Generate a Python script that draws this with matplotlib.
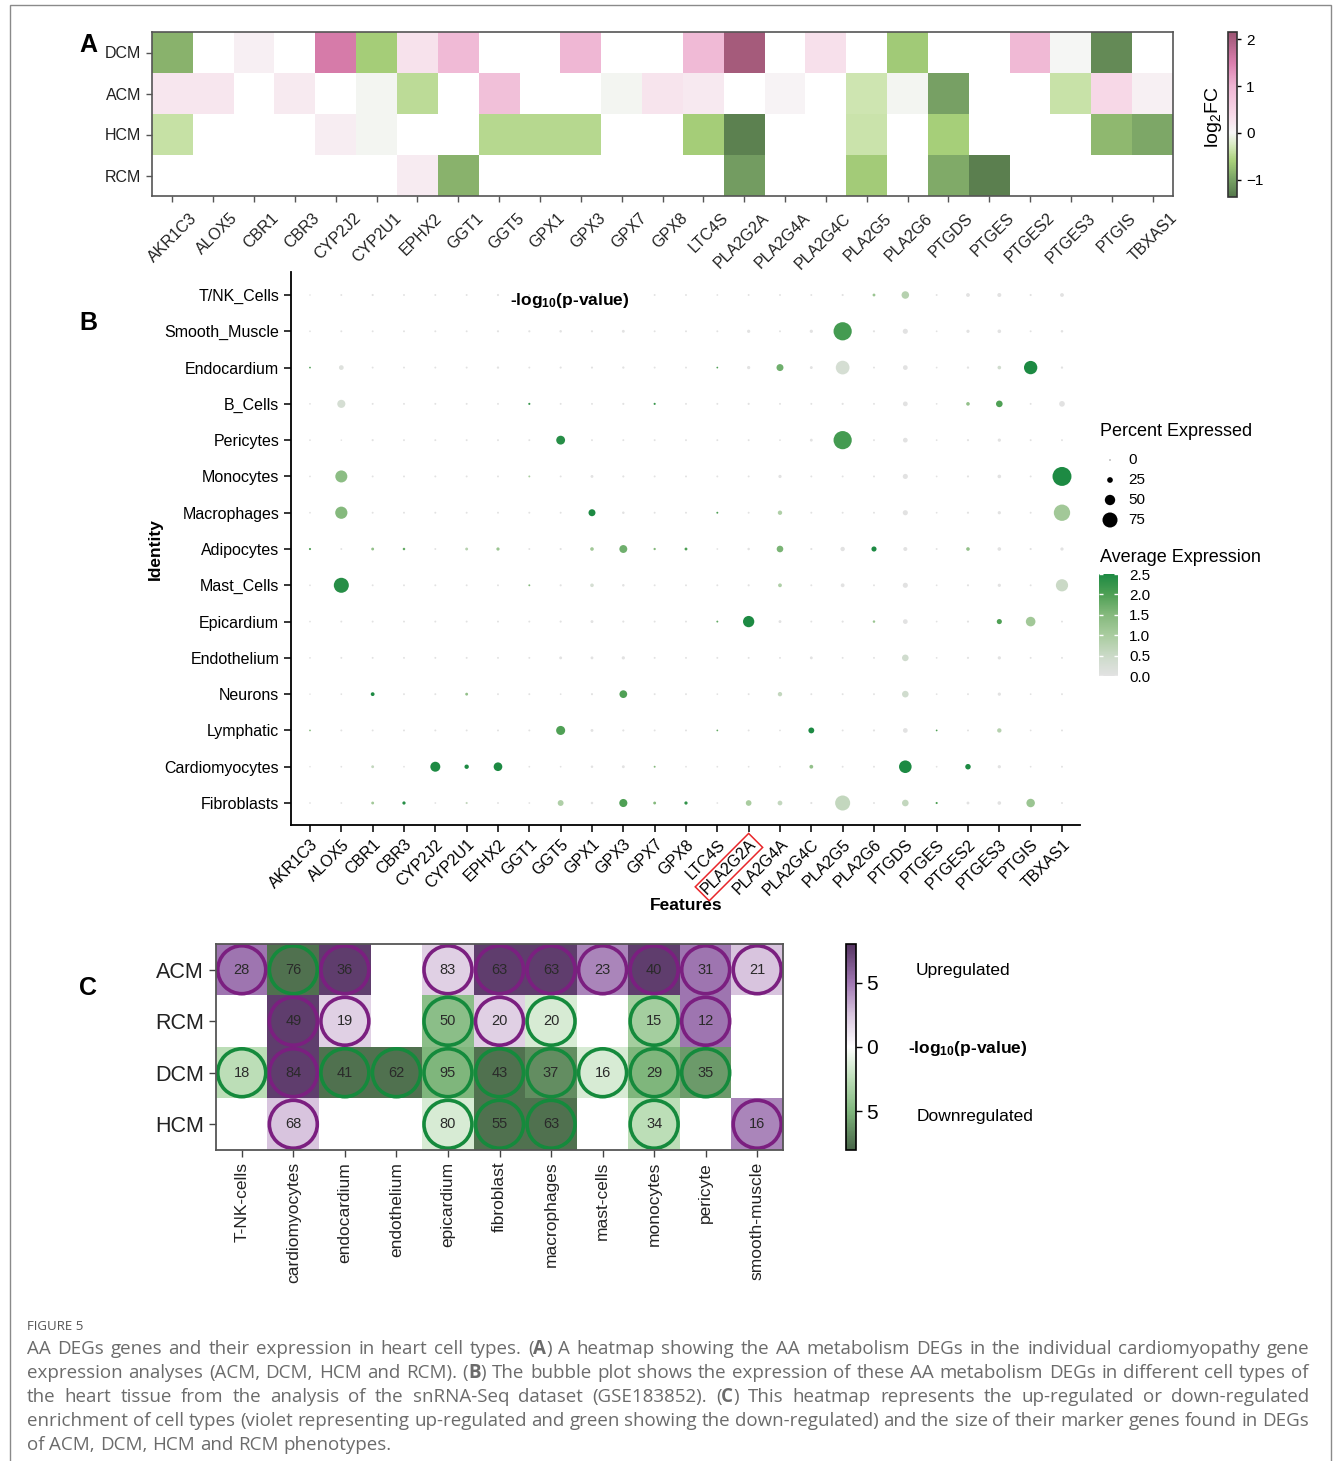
import re
import numpy as np
import matplotlib
matplotlib.use('Agg')
import matplotlib.pyplot as plt
from matplotlib.colors import LinearSegmentedColormap, Normalize
from matplotlib.patches import Rectangle, Ellipse
from matplotlib.colorbar import ColorbarBase
from matplotlib.transforms import ScaledTranslation

plt.rcParams['font.family'] = ['Liberation Sans', 'DejaVu Sans']
plt.rcParams['mathtext.default'] = 'regular'

# ---------------- data ----------------
genes = ['AKR1C3', 'ALOX5', 'CBR1', 'CBR3', 'CYP2J2', 'CYP2U1', 'EPHX2', 'GGT1',
         'GGT5', 'GPX1', 'GPX3', 'GPX7', 'GPX8', 'LTC4S', 'PLA2G2A', 'PLA2G4A',
         'PLA2G4C', 'PLA2G5', 'PLA2G6', 'PTGDS', 'PTGES', 'PTGES2', 'PTGES3',
         'PTGIS', 'TBXAS1']

# panel A: log2FC per cardiomyopathy (nan = not a DEG)
nan = np.nan
groups_a = ['DCM', 'ACM', 'HCM', 'RCM']
lfc_dcm = [-0.85, nan, 0.10, nan, 1.55, -0.62, 0.28, 0.90, nan, nan, 0.95, nan, nan,
           0.90, 2.05, nan, 0.30, nan, -0.65, nan, nan, 0.92, -0.01, -1.20, nan]
lfc_acm = [0.22, 0.22, nan, 0.17, nan, -0.03, -0.45, nan, 0.80, nan, nan, -0.02, 0.25,
           0.18, nan, 0.04, nan, -0.33, -0.02, -1.00, nan, nan, -0.37, 0.40, 0.08]
lfc_hcm = [-0.38, nan, nan, nan, 0.12, -0.03, nan, nan, -0.50, -0.50, -0.50, nan, nan,
           -0.62, -1.28, nan, nan, -0.36, nan, -0.60, nan, nan, nan, -0.80, -0.95]
lfc_rcm = [nan, nan, nan, nan, nan, nan, 0.15, -0.85, nan, nan, nan, nan, nan,
           nan, -1.05, nan, nan, -0.63, nan, -0.92, -1.30, nan, nan, nan, nan]

# panel B: dot plot, percent expressed and average expression
identities = ['T/NK_Cells', 'Smooth_Muscle', 'Endocardium', 'B_Cells', 'Pericytes',
              'Monocytes', 'Macrophages', 'Adipocytes', 'Mast_Cells', 'Epicardium',
              'Endothelium', 'Neurons', 'Lymphatic', 'Cardiomyocytes', 'Fibroblasts']
pct_expr = [
    [3, 5, 6, 5, 5, 5, 6, 6, 6, 6, 6, 5, 5, 4, 5, 5, 5, 6, 10, 35, 5, 15, 16, 6, 15],
    [4, 5, 5, 5, 5, 5, 6, 6, 8, 6, 10, 5, 5, 5, 12, 5, 12, 92, 6, 22, 4, 12, 14, 5, 8],
    [4, 20, 5, 5, 5, 5, 7, 5, 6, 6, 7, 5, 5, 4, 12, 32, 10, 68, 5, 20, 4, 7, 14, 66, 7],
    [4, 38, 5, 5, 5, 5, 5, 6, 5, 5, 6, 6, 5, 5, 6, 5, 5, 6, 5, 20, 4, 14, 30, 5, 25],
    [4, 3, 6, 5, 5, 5, 5, 5, 42, 5, 5, 5, 5, 5, 5, 4, 10, 92, 5, 20, 4, 6, 12, 5, 5],
    [4, 59, 5, 5, 5, 5, 5, 5, 5, 10, 6, 5, 5, 5, 5, 12, 5, 5, 5, 22, 4, 6, 14, 5, 96],
    [4, 60, 5, 5, 5, 5, 5, 5, 5, 32, 8, 5, 5, 5, 5, 18, 5, 5, 5, 22, 4, 6, 12, 5, 82],
    [6, 5, 10, 8, 5, 10, 12, 5, 6, 14, 37, 7, 10, 4, 8, 30, 6, 18, 22, 16, 5, 14, 14, 6, 12],
    [4, 75, 5, 5, 5, 5, 5, 5, 6, 14, 8, 5, 5, 5, 6, 15, 5, 15, 5, 22, 4, 6, 12, 5, 60],
    [4, 5, 5, 5, 5, 5, 5, 5, 6, 10, 6, 5, 5, 5, 55, 10, 5, 6, 8, 20, 4, 6, 22, 46, 5],
    [4, 5, 5, 5, 5, 5, 5, 5, 10, 10, 12, 5, 5, 5, 5, 5, 10, 5, 5, 30, 4, 6, 12, 5, 5],
    [3, 4, 15, 5, 5, 10, 5, 5, 4, 6, 36, 5, 5, 4, 5, 18, 5, 5, 5, 30, 4, 5, 12, 4, 5],
    [4, 5, 5, 5, 5, 5, 5, 5, 43, 10, 6, 5, 5, 4, 5, 4, 26, 5, 6, 20, 4, 5, 18, 4, 5],
    [3, 4, 10, 4, 48, 18, 41, 4, 4, 8, 10, 5, 4, 4, 4, 4, 15, 5, 5, 62, 4, 24, 12, 4, 5],
    [4, 4, 10, 12, 4, 6, 5, 4, 26, 8, 38, 10, 12, 4, 25, 20, 6, 75, 5, 30, 6, 10, 14, 40, 5],
]
avg_expr = [
    [0, 0, 0, 0, 0, 0, 0, 0, 0, 0, 0, 0, 0, 0, 0, 0, 0, 0, 1.2, 0.8, 0, 0, 0, 0, 0],
    [0, 0, 0, 0, 0, 0, 0, 0, 0, 0, 0, 0, 0, 0, 0, 0, 0, 2.1, 0, 0, 0, 0, 0, 0, 0],
    [2.0, 0.1, 0, 0, 0, 0, 0, 0, 0, 0, 0, 0, 0, 2.0, 0, 1.7, 0, 0.3, 0, 0, 0, 0, 0.4, 2.5, 0],
    [0, 0.3, 0, 0, 0, 0, 0, 2.2, 0, 0, 0, 2.2, 0, 0, 0, 0, 0, 0, 0, 0, 0, 1.3, 2.0, 0, 0],
    [0, 0, 0, 0, 0, 0, 0, 0, 2.4, 0, 0, 0, 0, 0, 0, 0, 0, 2.1, 0, 0, 0, 0, 0, 0, 0],
    [0, 1.4, 0, 0, 0, 0, 0, 1.0, 0, 0, 0, 0, 0, 0, 0, 0, 0, 0, 0, 0, 0, 0, 0, 0, 2.5],
    [0, 1.5, 0, 0, 0, 0, 0, 0, 0, 2.5, 0, 0, 0, 2.0, 0, 0.9, 0, 0, 0, 0, 0, 0, 0, 0, 1.1],
    [2.0, 0, 1.3, 1.8, 0, 0.8, 1.2, 0, 0, 1.1, 1.7, 1.5, 2.0, 0, 0, 1.6, 0, 0, 2.5, 0, 0, 1.3, 0, 0, 0],
    [0, 2.4, 0, 0, 0, 0, 0, 1.5, 0, 0.3, 0, 0, 0, 0, 0, 0.9, 0, 0, 0, 0, 0, 0, 0, 0, 0.5],
    [0, 0, 0, 0, 0, 0, 0, 0, 0, 0, 0, 0, 0, 1.8, 2.5, 0, 0, 0, 1.2, 0, 0, 0, 2.0, 1.1, 0],
    [0, 0, 0, 0, 0, 0, 0, 0, 0, 0, 0, 0, 0, 0, 0, 0, 0, 0, 0, 0.4, 0, 0, 0, 0, 0],
    [0, 0, 2.5, 0, 0, 1.3, 0, 0, 0, 0, 2.0, 0, 0, 0, 0, 0.6, 0, 0, 0, 0.4, 0, 0, 0, 0, 0],
    [1.5, 0, 0, 0, 0, 0, 0, 0, 2.0, 0, 0, 0, 0, 1.8, 0, 0, 2.5, 0, 0, 0, 2.0, 0, 0.8, 0, 0],
    [0, 0, 0.6, 0, 2.5, 2.5, 2.5, 0, 0, 0, 0, 1.5, 0, 0, 0, 0, 1.3, 0, 0, 2.5, 0, 2.5, 0, 0, 0],
    [0, 0, 1.1, 2.4, 0, 0.6, 0, 0, 0.9, 0, 2.0, 1.5, 2.3, 0, 1.0, 0.6, 0, 0.6, 0, 0.6, 2.0, 0, 0, 1.2, 0],
]
pct_legend = [0, 25, 50, 75]

# panel C: signed -log10(p) (positive = up, negative = down) and marker gene counts
groups_c = ['ACM', 'RCM', 'DCM', 'HCM']
cell_types = ['T-NK-cells', 'cardiomyocytes', 'endocardium', 'endothelium', 'epicardium',
              'fibroblast', 'macrophages', 'mast-cells', 'monocytes', 'pericyte',
              'smooth-muscle']
logp_acm = [5.0, -7.5, 7.5, nan, 2.0, 7.5, 7.5, 4.5, 7.5, 5.0, 2.5]
logp_rcm = [nan, 7.5, 2.0, nan, -4.5, 2.0, -1.5, nan, -3.5, 5.0, nan]
logp_dcm = [-2.5, 7.5, -7.5, -7.5, -5.0, -7.5, -6.5, -1.5, -5.0, -6.0, nan]
logp_hcm = [nan, 2.5, nan, nan, -1.5, -7.5, -7.5, nan, -2.5, nan, 4.5]
n_acm = [28, 76, 36, None, 83, 63, 63, 23, 40, 31, 21]
n_rcm = [None, 49, 19, None, 50, 20, 20, None, 15, 12, None]
n_dcm = [18, 84, 41, 62, 95, 43, 37, 16, 29, 35, None]
n_hcm = [None, 68, None, None, 80, 55, 63, None, 34, None, 16]

# ---------------- layout helpers ----------------
W, H = 1333, 1461
fig = plt.figure(figsize=(W / 100, H / 100), dpi=100)


def box(x0, y0, x1, y1):
    return [x0 / W, 1 - y1 / H, (x1 - x0) / W, (y1 - y0) / H]


def dot_size(p):
    # radius scales with percent expressed
    d_px = 1.0 + 0.187 * np.asarray(p, dtype=float)
    return (d_px * 0.72) ** 2


# ---------------- panel A ----------------
lo_a, hi_a = -1.37, 2.16
nodes_a = [(-1.37, '#55784b'), (-1.0, '#78a265'), (-0.6, '#a8d07a'), (-0.3, '#d3e8b8'),
           (0.0, '#f7f7f7'), (0.4, '#f8d9e8'), (1.0, '#efb5d3'), (1.5, '#db7fae'),
           (2.16, '#9c5573')]
cmap_a = LinearSegmentedColormap.from_list(
    'lfc', [((v - lo_a) / (hi_a - lo_a), c) for v, c in nodes_a])
cmap_a.set_bad('white')

lfc = np.array([lfc_dcm, lfc_acm, lfc_hcm, lfc_rcm])
axA = fig.add_axes(box(152, 32, 1173, 196))
axA.imshow(np.ma.masked_invalid(lfc), cmap=cmap_a, norm=Normalize(lo_a, hi_a),
           aspect='auto', interpolation='nearest')
axA.set_xticks(range(len(genes)))
axA.set_xticklabels(genes, rotation=45, ha='right', rotation_mode='anchor',
                    fontsize=11.5, color='#222222')
axA.set_yticks(range(len(groups_a)))
axA.set_yticklabels(groups_a, fontsize=11.5, color='#222222')
axA.tick_params(length=4, color='#555555', width=1)
for s in axA.spines.values():
    s.set_color('#555555')
    s.set_linewidth(1.2)
# gene names sit a little right of their ticks
shift = ScaledTranslation(0.17, -0.04, fig.dpi_scale_trans)
for tick in axA.xaxis.get_major_ticks():
    tick.label1.set_transform(tick.label1.get_transform() + shift)

caxA = fig.add_axes(box(1228, 32, 1237, 197))
cbA = ColorbarBase(caxA, cmap=cmap_a, norm=Normalize(lo_a, hi_a), ticks=[-1, 0, 1, 2])
cbA.ax.set_yticklabels(['\u22121', '0', '1', '2'], fontsize=11)
cbA.ax.tick_params(length=3, width=1)
cbA.outline.set_linewidth(1.2)
cbA.outline.set_edgecolor('#333333')
fig.text(1214 / W, 1 - 117 / H, 'log$_2$FC', rotation=90, fontsize=14,
         ha='center', va='center')

# ---------------- panel B ----------------
nodes_b = [(0.0, '#e2e2e2'), (0.4, '#d0dcce'), (1.0, '#a9cc9f'), (1.5, '#85b97d'),
           (2.0, '#4fa055'), (2.5, '#1d8a43')]
cmap_b = LinearSegmentedColormap.from_list('avg', [(v / 2.5, c) for v, c in nodes_b])

axB = fig.add_axes(box(291, 272, 1080, 825))
n_id = len(identities)
xs = np.arange(len(genes))
for i in range(n_id):
    axB.scatter(xs, np.full(len(genes), n_id - 1 - i), s=dot_size(pct_expr[i]),
                c=avg_expr[i], cmap=cmap_b, vmin=0, vmax=2.5, edgecolors='none',
                clip_on=False)
axB.set_xlim(-0.606, 24.575)
axB.set_ylim(-0.606, n_id - 1 + 0.634)
axB.set_yticks(range(n_id))
axB.set_yticklabels(identities[::-1], fontsize=11.5)
axB.set_xticks(xs)
axB.set_xticklabels(genes, rotation=45, ha='right', rotation_mode='anchor', fontsize=11.5)
axB.tick_params(length=5, width=1.1)
for side in ['top', 'right']:
    axB.spines[side].set_visible(False)
for side in ['left', 'bottom']:
    axB.spines[side].set_linewidth(1.3)
for lab in axB.get_xticklabels():
    if lab.get_text() == 'PLA2G2A':
        lab.set_bbox(dict(boxstyle='square,pad=0.15', fc='none', ec='#e8262a', lw=1.1))

fig.text(155 / W, 1 - 549 / H, 'Identity', rotation=90, fontsize=12.5,
         fontweight='bold', ha='center', va='center')
fig.text(686 / W, 1 - 905 / H, 'Features', fontsize=12.5, fontweight='bold',
         ha='center', va='center')
fig.text(510 / W, 1 - 300 / H, '-log$_{10}$(p-value)', fontsize=12.5,
         fontweight='bold', ha='left', va='center')

# size legend
axL = fig.add_axes([0, 0, 1, 1], facecolor='none')
axL.set_xlim(0, W)
axL.set_ylim(H, 0)
axL.axis('off')
fig.text(1100 / W, 1 - 432 / H, 'Percent Expressed', fontsize=13, ha='left', va='center')
for k, p in enumerate(pct_legend):
    yy = 460 + 20 * k
    axL.scatter([1110], [yy], s=dot_size(p), color='black', edgecolors='none')
    fig.text(1128 / W, 1 - yy / H, str(p), fontsize=11, ha='left', va='center')

fig.text(1100 / W, 1 - 557 / H, 'Average Expression', fontsize=13, ha='left', va='center')
caxB = fig.add_axes(box(1099, 574, 1118, 676))
cbB = ColorbarBase(caxB, cmap=cmap_b, norm=Normalize(0, 2.5),
                   ticks=[0, 0.5, 1.0, 1.5, 2.0, 2.5])
cbB.outline.set_visible(False)
cbB.ax.set_yticklabels(['0.0', '0.5', '1.0', '1.5', '2.0', '2.5'], fontsize=11)
cbB.ax.yaxis.set_ticks_position('both')
cbB.ax.tick_params(direction='in', color='white', length=3, width=1, pad=8)
cbB.ax.yaxis.set_tick_params(labelleft=False, labelright=True)

# ---------------- panel C ----------------
nodes_c = [(-8, '#476447'), (-5, '#7fb67c'), (-2.5, '#bcdeb7'), (0, '#ffffff'),
           (2.5, '#d9c6df'), (5, '#a077b2'), (8, '#553462')]
cmap_c = LinearSegmentedColormap.from_list('pval', [((v + 8) / 16, c) for v, c in nodes_c])
cmap_c.set_bad('white')

logp = np.array([logp_acm, logp_rcm, logp_dcm, logp_hcm])
counts = [n_acm, n_rcm, n_dcm, n_hcm]
axC = fig.add_axes(box(216, 944, 783, 1150))
axC.imshow(np.ma.masked_invalid(logp), cmap=cmap_c, norm=Normalize(-8, 8),
           aspect='auto', interpolation='nearest')
for r in range(len(groups_c)):
    for c in range(len(cell_types)):
        n = counts[r][c]
        if n is None:
            continue
        ring = '#7b1f80' if logp[r, c] > 0 else '#158a3c'
        axC.add_patch(Ellipse((c, r), 0.93, 0.93, fill=False, ec=ring, lw=2.6))
        axC.text(c, r, str(n), ha='center', va='center', fontsize=10.5,
                 color='#2a2a2a')
axC.set_xticks(range(len(cell_types)))
axC.set_xticklabels(cell_types, rotation=90, fontsize=12.5, color='#222222')
axC.set_yticks(range(len(groups_c)))
axC.set_yticklabels(groups_c, fontsize=15.5, color='#222222')
axC.tick_params(length=5, width=1, color='#444444')
for s in axC.spines.values():
    s.set_color('#555555')
    s.set_linewidth(1.3)

caxC = fig.add_axes(box(846, 944, 856, 1150))
cbC = ColorbarBase(caxC, cmap=cmap_c, norm=Normalize(-8, 8), ticks=[-5, 0, 5])
cbC.ax.set_yticklabels(['5', '0', '5'], fontsize=15)
cbC.ax.tick_params(length=4, width=1)
cbC.outline.set_linewidth(1.2)
fig.text(916 / W, 1 - 970 / H, 'Upregulated', fontsize=12.5, ha='left', va='center')
fig.text(908 / W, 1 - 1048 / H, '-log$_{10}$(p-value)', fontsize=12.5,
         fontweight='bold', ha='left', va='center')
fig.text(917 / W, 1 - 1116 / H, 'Downregulated', fontsize=12.5, ha='left', va='center')

# panel letters
for letter, (px, py) in zip('ABC', [(88, 45), (88, 323), (88, 988)]):
    fig.text(px / W, 1 - py / H, letter, fontsize=18, fontweight='bold',
             ha='center', va='center')

# ---------------- caption ----------------
cap_font = ['Open Sans', 'DejaVu Sans']
cap_color = '#6b6b6b'
cap_size = 13.5
fig.text(27 / W, 1 - 1326 / H, 'FIGURE 5', fontsize=9.5, color='#555555',
         family=cap_font, ha='left', va='center')
caption_lines = [
    'AA DEGs genes and their expression in heart cell types. (A) A heatmap showing the AA '
    'metabolism DEGs in the individual cardiomyopathy gene',
    'expression analyses (ACM, DCM, HCM and RCM). (B) The bubble plot shows the expression '
    'of these AA metabolism DEGs in different cell types of',
    'the heart tissue from the analysis of the snRNA-Seq dataset (GSE183852). (C) This '
    'heatmap represents the up-regulated or down-regulated',
    'enrichment of cell types (violet representing up-regulated and green showing the '
    'down-regulated) and the size of their marker genes found in DEGs',
    'of ACM, DCM, HCM and RCM phenotypes.',
]
renderer = fig.canvas.get_renderer()
probe = fig.text(0, 0, 'a a', fontsize=cap_size, family=cap_font)
space_w = probe.get_window_extent(renderer).width
probe.set_text('aa')
space_w -= probe.get_window_extent(renderer).width
probe.remove()

x_left, x_right = 27, 1309
for li, line in enumerate(caption_lines):
    yy = 1 - (1349 + 24 * li) / H
    words = []
    for tok in line.split(' '):
        m = re.fullmatch(r'\(([ABC])\)', tok)
        if m:
            words.append([('(', 'normal'), (m.group(1), 'bold'), (')', 'normal')])
        else:
            words.append([(tok, 'normal')])
    pieces = []
    widths = []
    for w in words:
        parts = []
        wsum = 0.0
        for txt, wt in w:
            t = fig.text(0, yy, txt, fontsize=cap_size, color=cap_color, family=cap_font,
                         fontweight=wt, ha='left', va='center')
            wd = t.get_window_extent(renderer).width
            parts.append((t, wd))
            wsum += wd
        pieces.append(parts)
        widths.append(wsum)
    if li < len(caption_lines) - 1:
        gap = (x_right - x_left - sum(widths)) / (len(words) - 1)
    else:
        gap = space_w
    x = x_left
    for parts, wsum in zip(pieces, widths):
        xx = x
        for t, wd in parts:
            t.set_x(xx / W)
            xx += wd
        x += wsum + gap

# outer frame
fig.patches.append(Rectangle((9.5 / W, -0.01), (1331 - 9.5) / W, 1 - 5 / H + 0.01,
                             transform=fig.transFigure, fill=False,
                             ec='#8a8a8a', lw=1.0))

fig.savefig('out.png', dpi=100)
